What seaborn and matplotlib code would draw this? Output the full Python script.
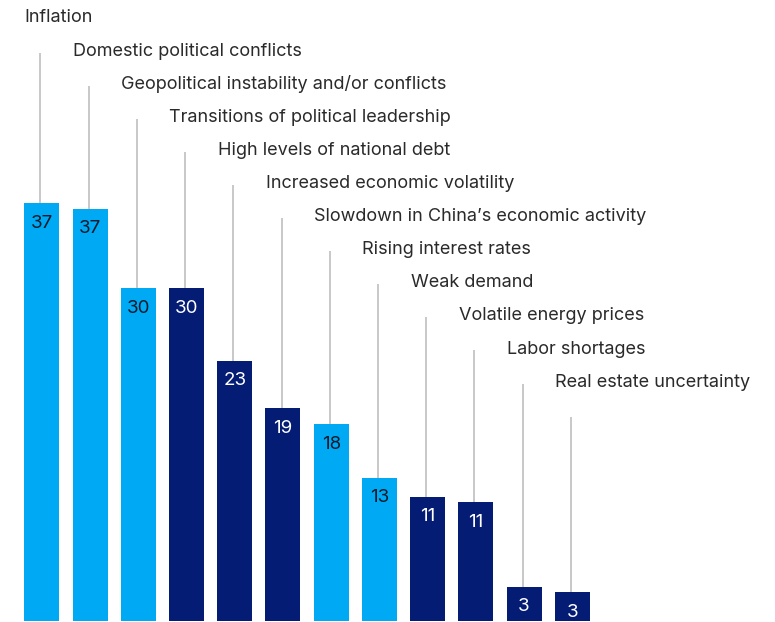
import matplotlib
matplotlib.use("Agg")
import matplotlib.pyplot as plt
import seaborn as sns
import pandas as pd

categories = [
    "Inflation",
    "Domestic political conflicts",
    "Geopolitical instability and/or conflicts",
    "Transitions of political leadership",
    "High levels of national debt",
    "Increased economic volatility",
    "Slowdown in China\u2019s economic activity",
    "Rising interest rates",
    "Weak demand",
    "Volatile energy prices",
    "Labor shortages",
    "Real estate uncertainty",
]
values = [37.5, 37.0, 29.9, 29.9, 23.4, 19.1, 17.7, 12.9, 11.2, 10.7, 3.1, 2.6]
value_labels = ["37", "37", "30", "30", "23", "19", "18", "13", "11", "11", "3", "3"]
groups = ["light", "light", "light", "dark", "dark", "dark",
          "light", "light", "dark", "dark", "dark", "dark"]

LIGHT = "#00A9F4"
DARK = "#051C74"
color_map = {"light": LIGHT, "dark": DARK}

sns.set_theme(style="white")
plt.rcParams["font.family"] = ["Inter", "DejaVu Sans"]

W, H, DPI = 775, 622, 100
fig = plt.figure(figsize=(W / DPI, H / DPI), dpi=DPI)
ax = fig.add_axes([0, 0, 1, 1])

df = pd.DataFrame({"cat": categories, "val": values, "grp": groups})
sns.barplot(data=df, x="cat", y="val", hue="cat",
            palette=[color_map[g] for g in groups], legend=False,
            width=0.726, ax=ax, saturation=1, edgecolor="none")

# pixel <-> data mapping
px_per_unit_x = 48.23
x0_px = 41.8
xl = -x0_px / px_per_unit_x
ax.set_xlim(xl, xl + W / px_per_unit_x)
px_per_unit_y = 11.15
ax.set_ylim(-0.05, H / px_per_unit_y - 0.05)

def ypx(p):
    return (H - p) / px_per_unit_y - 0.05

half = 0.726 / 2
for i, (cat, v, lab, g) in enumerate(zip(categories, values, value_labels, groups)):
    base_px = 22.5 + 33.1 * i
    ax.text(i - half + 0.01, ypx(base_px), cat, ha="left", va="baseline",
            fontsize=13, color="#2a2a2a")
    ax.plot([i - 0.03, i - 0.03], [ypx(base_px + 30), v], color="#c8c8c8",
            lw=1.4, solid_capstyle="butt", zorder=0.5)
    ax.text(i, v - 24.5 / px_per_unit_y, lab, ha="center", va="baseline",
            fontsize=13.5, color="#051C2C" if g == "light" else "white")

ax.axis("off")
fig.savefig("out.png", dpi=DPI)
